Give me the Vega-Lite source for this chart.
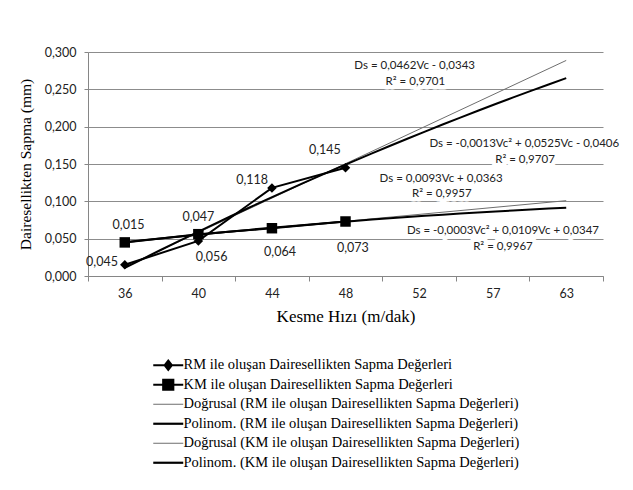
{
  "$schema": "https://vega.github.io/schema/vega-lite/v6.json",
  "width": 515,
  "height": 224,
  "autosize": {"type": "none"},
  "padding": {"left": 88, "top": 52, "right": 30, "bottom": 214},
  "background": "white",
  "config": {"view": {"stroke": null}, "font": "Lato"},
  "datasets": {
    "pts": [
      {"series": "RM", "idx": 1, "value": 0.015},
      {"series": "RM", "idx": 2, "value": 0.047},
      {"series": "RM", "idx": 3, "value": 0.118},
      {"series": "RM", "idx": 4, "value": 0.145},
      {"series": "KM", "idx": 1, "value": 0.045},
      {"series": "KM", "idx": 2, "value": 0.056},
      {"series": "KM", "idx": 3, "value": 0.064},
      {"series": "KM", "idx": 4, "value": 0.073}
    ],
    "labels": [
      {"t": "0,045", "idx": 0.69, "value": 0.019},
      {"t": "0,015", "idx": 1.05, "value": 0.068},
      {"t": "0,047", "idx": 2.0, "value": 0.079},
      {"t": "0,056", "idx": 2.18, "value": 0.025},
      {"t": "0,118", "idx": 2.73, "value": 0.129},
      {"t": "0,064", "idx": 3.11, "value": 0.032},
      {"t": "0,145", "idx": 3.72, "value": 0.169},
      {"t": "0,073", "idx": 4.1, "value": 0.037}
    ],
    "eq": [
      {"t": "Ds = 0,0462Vc - 0,0343", "idx": 4.94, "value": 0.281},
      {"t": "R² = 0,9701", "idx": 4.95, "value": 0.26},
      {"t": "Ds = -0,0013Vc² + 0,0525Vc - 0,0406", "idx": 6.43, "value": 0.177},
      {"t": "R² = 0,9707", "idx": 6.44, "value": 0.156},
      {"t": "Ds = 0,0093Vc + 0,0363", "idx": 5.30, "value": 0.130},
      {"t": "R² = 0,9957", "idx": 5.31, "value": 0.110},
      {"t": "Ds = -0,0003Vc² + 0,0109Vc + 0,0347", "idx": 6.14, "value": 0.060},
      {"t": "R² = 0,9967", "idx": 6.14, "value": 0.039}
    ]
  },
  "encoding": {
    "x": {
      "field": "idx",
      "type": "quantitative",
      "scale": {"domain": [0.5, 7.5], "nice": false, "zero": false},
      "axis": {
        "title": "Kesme Hızı  (m/dak)",
        "values": [0.5, 1.5, 2.5, 3.5, 4.5, 5.5, 6.5, 7.5],
        "labelExpr": "datum.value < 7 ? ['36','40','44','48','52','57','63'][floor(datum.value)] : ''",
        "labelOffset": 36.8,
        "grid": false,
        "tickSize": 5,
        "domainColor": "#868686",
        "tickColor": "#868686",
        "labelFont": "Lato",
        "labelFontSize": 12.5,
        "labelColor": "#222222",
        "labelPadding": 6,
        "labelBound": false,
        "labelFlush": false,
        "labelOverlap": false,
        "titleFont": "Liberation Serif",
        "titleFontSize": 17,
        "titleFontWeight": "normal",
        "titleColor": "#000000",
        "titlePadding": 9
      }
    },
    "y": {
      "field": "value",
      "type": "quantitative",
      "scale": {"domain": [0, 0.3], "nice": false},
      "axis": {
        "title": "Dairesellikten  Sapma (mm)",
        "values": [0, 0.05, 0.1, 0.15, 0.2, 0.25, 0.3],
        "labelExpr": "replace(format(datum.value, '.3f'), '.', ',')",
        "tickSize": 4,
        "labelPadding": 8,
        "grid": true,
        "gridColor": "#8c8c8c",
        "domainColor": "#868686",
        "tickColor": "#868686",
        "labelFont": "Lato",
        "labelFontSize": 12.5,
        "labelColor": "#222222",
        "titleFont": "Liberation Serif",
        "titleFontSize": 15.5,
        "titleFontWeight": "normal",
        "titleColor": "#000000",
        "titlePadding": 11
      }
    }
  },
  "layer": [
    {
      "data": {"name": "pts"},
      "transform": [
        {"filter": "datum.series == 'RM'"},
        {"regression": "value", "on": "idx", "method": "linear", "extent": [1, 7]}
      ],
      "mark": {"type": "line", "strokeWidth": 1},
      "encoding": {
        "color": {
          "datum": "Doğrusal (RM ile oluşan Dairesellikten Sapma Değerleri)",
          "type": "nominal",
          "scale": {
            "domain": [
              "RM ile oluşan Dairesellikten Sapma Değerleri",
              "KM ile oluşan Dairesellikten Sapma Değerleri",
              "Doğrusal (RM ile oluşan Dairesellikten Sapma Değerleri)",
              "Polinom. (RM ile oluşan Dairesellikten Sapma Değerleri)",
              "Doğrusal (KM ile oluşan Dairesellikten Sapma Değerleri)",
              "Polinom. (KM ile oluşan Dairesellikten Sapma Değerleri)"
            ],
            "range": ["#000000", "#000000", "#6e6e6e", "#000000", "#6e6e6e", "#000000"]
          },
          "legend": {
            "title": null,
            "orient": "none",
            "legendX": 73,
            "legendY": 306,
            "padding": 0,
            "symbolSize": 100,
            "symbolStrokeWidth": 2,
            "labelFont": "Liberation Serif",
            "labelFontSize": 14.5,
            "labelColor": "#000000",
            "labelOffset": 8,
            "labelLimit": 0,
            "gridAlign": "all",
            "rowPadding": -0.5,
            "encode": {
              "symbols": {
                "update": {
                  "shape": {"signal": "datum.value == 'RM ile oluşan Dairesellikten Sapma Değerleri' ? 'M-3,0H3M0,-0.9L0.7,0L0,0.9L-0.7,0Z' : (datum.value == 'KM ile oluşan Dairesellikten Sapma Değerleri' ? 'M-3,0H3M-1,-1H1V1H-1Z' : 'M-3,0H3')"},
                  "strokeWidth": {"signal": "(datum.value == 'Doğrusal (RM ile oluşan Dairesellikten Sapma Değerleri)' || datum.value == 'Doğrusal (KM ile oluşan Dairesellikten Sapma Değerleri)') ? 1 : 2.2"},
                  "fill": {"value": "#000000"},
                  "stroke": {"value": "#000000"},
                  "opacity": {"value": 1}
                }
              }
            }
          }
        }
      }
    },
    {
      "data": {"name": "pts"},
      "transform": [
        {"filter": "datum.series == 'RM'"},
        {"regression": "value", "on": "idx", "method": "poly", "order": 2, "extent": [1, 7]}
      ],
      "mark": {"type": "line", "strokeWidth": 2},
      "encoding": {"color": {"datum": "Polinom. (RM ile oluşan Dairesellikten Sapma Değerleri)", "type": "nominal"}}
    },
    {
      "data": {"name": "pts"},
      "transform": [
        {"filter": "datum.series == 'KM'"},
        {"regression": "value", "on": "idx", "method": "linear", "extent": [1, 7]}
      ],
      "mark": {"type": "line", "strokeWidth": 1},
      "encoding": {"color": {"datum": "Doğrusal (KM ile oluşan Dairesellikten Sapma Değerleri)", "type": "nominal"}}
    },
    {
      "data": {"name": "pts"},
      "transform": [
        {"filter": "datum.series == 'KM'"},
        {"regression": "value", "on": "idx", "method": "poly", "order": 2, "extent": [1, 7]}
      ],
      "mark": {"type": "line", "strokeWidth": 2},
      "encoding": {"color": {"datum": "Polinom. (KM ile oluşan Dairesellikten Sapma Değerleri)", "type": "nominal"}}
    },
    {
      "data": {"name": "pts"},
      "transform": [{"filter": "datum.series == 'RM'"}],
      "mark": {"type": "line", "strokeWidth": 2, "point": {"shape": "diamond", "filled": true, "size": 90, "opacity": 1}},
      "encoding": {"color": {"datum": "RM ile oluşan Dairesellikten Sapma Değerleri", "type": "nominal"}}
    },
    {
      "data": {"name": "pts"},
      "transform": [{"filter": "datum.series == 'KM'"}],
      "mark": {"type": "line", "strokeWidth": 2, "point": {"shape": "square", "filled": true, "size": 110, "opacity": 1}},
      "encoding": {"color": {"datum": "KM ile oluşan Dairesellikten Sapma Değerleri", "type": "nominal"}}
    },
    {
      "data": {"name": "labels"},
      "mark": {"type": "text", "font": "Lato", "fontSize": 12.5, "color": "#222222", "align": "center", "baseline": "middle"},
      "encoding": {"text": {"field": "t"}}
    },
    {
      "data": {"name": "eq"},
      "mark": {"type": "text", "font": "Lato", "fontSize": 11.5, "fill": "#ffffff", "stroke": "#ffffff", "strokeWidth": 9, "strokeJoin": "round", "align": "center", "baseline": "middle"},
      "encoding": {"text": {"field": "t"}}
    },
    {
      "data": {"name": "eq"},
      "mark": {"type": "text", "font": "Lato", "fontSize": 11.5, "color": "#222222", "align": "center", "baseline": "middle"},
      "encoding": {"text": {"field": "t"}}
    }
  ]
}
